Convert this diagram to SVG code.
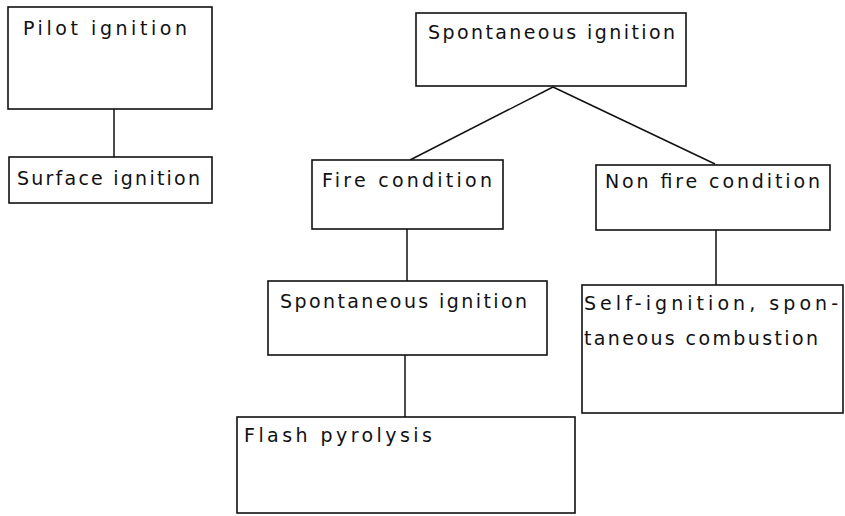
<svg xmlns="http://www.w3.org/2000/svg" width="845" height="516" viewBox="0 0 845 516">
<style>
.box{fill:#fff;stroke:#111;stroke-width:1.6}
.lbl{font-family:"DejaVu Sans","Liberation Sans",sans-serif;font-size:19px;fill:#111}
.conn{stroke:#111;stroke-width:1.5;fill:none}
</style>
<rect width="845" height="516" fill="#fff"/>
<g id="connectors">
<line class="conn" x1="114" y1="109" x2="114" y2="157"/>
<line class="conn" x1="553" y1="87" x2="410" y2="160"/>
<line class="conn" x1="553" y1="87" x2="715" y2="164"/>
<line class="conn" x1="407" y1="229" x2="407" y2="281"/>
<line class="conn" x1="716" y1="230" x2="716" y2="285"/>
<line class="conn" x1="405" y1="355" x2="405" y2="417"/>
</g>
<g id="pilot">
<rect class="box" x="8" y="7" width="204" height="102"/>
<text class="lbl" x="23" y="35" textLength="164" lengthAdjust="spacing">Pilot ignition</text>
</g>
<g id="surface">
<rect class="box" x="9" y="157" width="203" height="46"/>
<text class="lbl" x="17" y="185" textLength="183" lengthAdjust="spacing">Surface ignition</text>
</g>
<g id="spont-top">
<rect class="box" x="416" y="13" width="270" height="73"/>
<text class="lbl" x="428" y="39" textLength="247" lengthAdjust="spacing">Spontaneous ignition</text>
</g>
<g id="fire">
<rect class="box" x="312" y="160" width="191" height="69"/>
<text class="lbl" x="322" y="187" textLength="170" lengthAdjust="spacing">Fire condition</text>
</g>
<g id="nonfire">
<rect class="box" x="596" y="165" width="234" height="65"/>
<text class="lbl" x="605" y="188" textLength="215" lengthAdjust="spacing">Non fire condition</text>
</g>
<g id="spont-2">
<rect class="box" x="268" y="281" width="279" height="74"/>
<text class="lbl" x="280" y="308" textLength="247" lengthAdjust="spacing">Spontaneous ignition</text>
</g>
<g id="self">
<rect class="box" x="582" y="285" width="261" height="128"/>
<text class="lbl" x="584" y="310" textLength="254" lengthAdjust="spacing">Self-ignition, spon-</text>
<text class="lbl" x="584" y="345" textLength="234" lengthAdjust="spacing">taneous combustion</text>
</g>
<g id="flash">
<rect class="box" x="237" y="417" width="338" height="96"/>
<text class="lbl" x="244" y="442" textLength="188" lengthAdjust="spacing">Flash pyrolysis</text>
</g>
</svg>
